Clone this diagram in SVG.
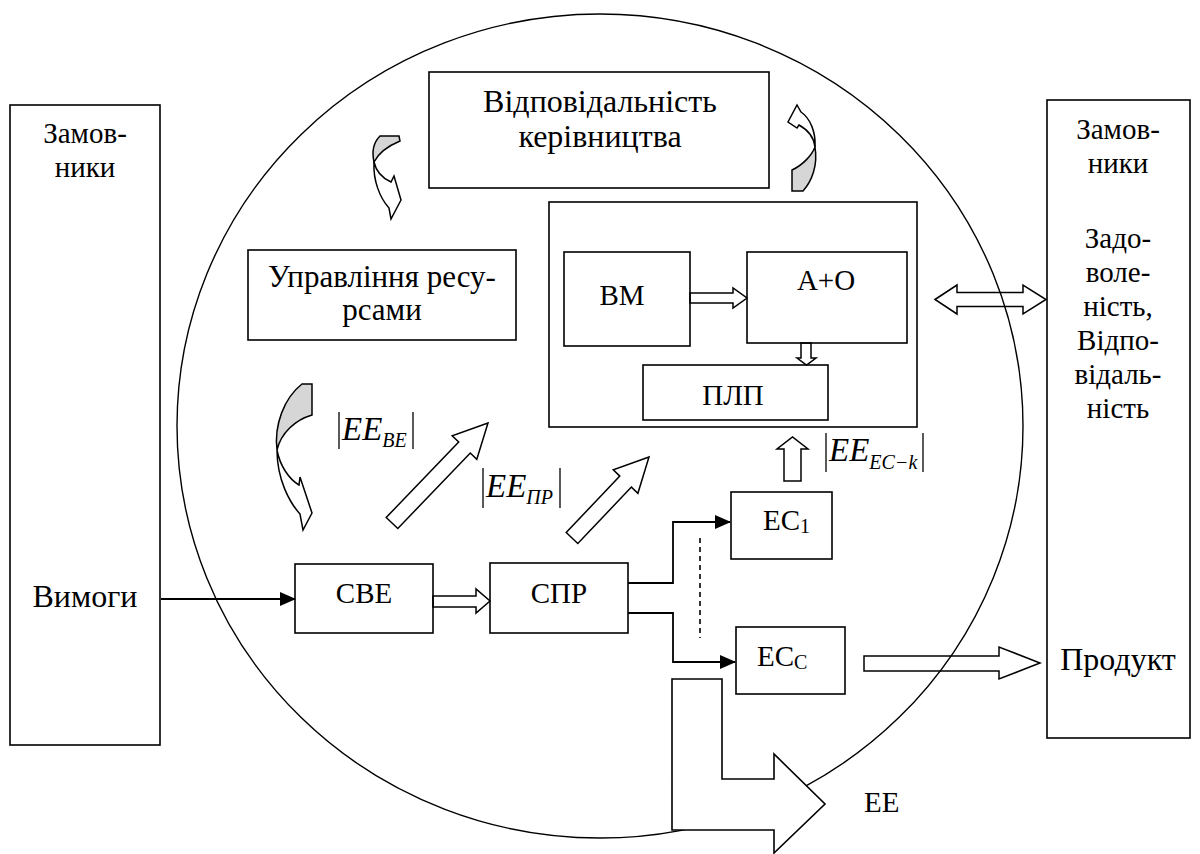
<svg xmlns="http://www.w3.org/2000/svg" width="1200" height="854" viewBox="0 0 1200 854">
<defs>
<style>
.box{fill:#fff;stroke:#000;stroke-width:1.6}
.t{font-family:"Liberation Serif","Times New Roman",serif;font-size:29px;fill:#000}
.big{font-size:32px}
.mid{font-size:31px}
.m{font-family:"Liberation Serif","Times New Roman",serif;font-size:33px;font-style:italic;fill:#000}
.s{font-family:"Liberation Serif","Times New Roman",serif;font-size:20px;font-style:italic;fill:#000}
.su{font-family:"Liberation Serif","Times New Roman",serif;font-size:20px;fill:#000}
.ha{fill:none;stroke:#000;stroke-width:1.5;stroke-linejoin:miter}
.ln{fill:none;stroke:#000;stroke-width:1.8}
.bar{stroke:#000;stroke-width:1.3}
.cw{fill:#fff;stroke:#000;stroke-width:1.5;stroke-linejoin:miter}
.cg{fill:#d6d6d6;stroke:#000;stroke-width:1.5;stroke-linejoin:miter}
</style>
<marker id="ah" viewBox="0 0 16 14" refX="15" refY="7" markerWidth="16" markerHeight="14" markerUnits="userSpaceOnUse" orient="auto">
<path d="M0,0 L16,7 L0,14 Z" fill="#000"/>
</marker>
</defs>
<rect width="1200" height="854" fill="#fff"/>

<g id="boundary">
<ellipse cx="600" cy="426" rx="423" ry="412" fill="none" stroke="#000" stroke-width="1.4"/>
</g>

<g id="customers-left">
<rect class="box" x="10" y="105" width="150" height="640"/>
<text class="t" x="85" y="143" text-anchor="middle">Замов-</text>
<text class="t" x="85" y="177" text-anchor="middle">ники</text>
<text class="t big" x="85" y="607" text-anchor="middle">Вимоги</text>
</g>

<g id="customers-right">
<rect class="box" x="1047" y="100" width="143" height="638"/>
<text class="t" x="1118" y="139" text-anchor="middle">Замов-</text>
<text class="t" x="1118" y="173" text-anchor="middle">ники</text>
<text class="t" x="1118" y="248" text-anchor="middle">Задо-</text>
<text class="t" x="1118" y="282" text-anchor="middle">воле-</text>
<text class="t" x="1118" y="316" text-anchor="middle">ність,</text>
<text class="t" x="1118" y="350" text-anchor="middle">Відпо-</text>
<text class="t" x="1118" y="384" text-anchor="middle">відаль-</text>
<text class="t" x="1118" y="418" text-anchor="middle">ність</text>
<text class="t big" x="1118" y="670" text-anchor="middle">Продукт</text>
</g>

<g id="management">
<rect class="box" x="429" y="72" width="340" height="116"/>
<text class="t big" x="600" y="112" text-anchor="middle">Відповідальність</text>
<text class="t big" x="600" y="147" text-anchor="middle">керівництва</text>
</g>

<g id="resources">
<rect class="box" x="248" y="250" width="268" height="90"/>
<text class="t mid" x="382" y="287" text-anchor="middle">Управління ресу-</text>
<text class="t mid" x="382" y="320" text-anchor="middle">рсами</text>
</g>

<g id="container">
<rect class="box" x="549" y="202" width="368" height="225"/>
</g>
<g id="bm">
<rect class="box" x="564" y="252" width="126" height="94"/>
<text class="t" x="622" y="305" text-anchor="middle">ВМ</text>
</g>
<g id="ao">
<rect class="box" x="747" y="252" width="160" height="91"/>
<text class="t" x="826" y="290" text-anchor="middle">A+O</text>
</g>
<g id="plp">
<rect class="box" x="643" y="365" width="185" height="55"/>
<text class="t" x="733" y="405" text-anchor="middle">ПЛП</text>
</g>

<g id="sve">
<rect class="box" x="295" y="564" width="138" height="69"/>
<text class="t" x="364" y="603" text-anchor="middle">СВЕ</text>
</g>
<g id="spr">
<rect class="box" x="490" y="563" width="138" height="70"/>
<text class="t" x="559" y="603" text-anchor="middle">СПР</text>
</g>
<g id="ec1">
<rect class="box" x="731" y="492" width="101" height="67"/>
<text class="t" x="763" y="530">EC<tspan class="su" dy="3">1</tspan></text>
</g>
<g id="ecc">
<rect class="box" x="736" y="627" width="109" height="67"/>
<text class="t" x="757" y="666">EC<tspan class="su" dy="3">C</tspan></text>
</g>

<g id="labels">
<line class="bar" x1="339" y1="412" x2="339" y2="449"/>
<text class="m" x="342" y="440">EE<tspan class="s" dy="7">BE</tspan></text>
<line class="bar" x1="413" y1="412" x2="413" y2="449"/>

<line class="bar" x1="483" y1="468" x2="483" y2="508"/>
<text class="m" x="486" y="497">EE<tspan class="s" dy="7">ПР</tspan></text>
<line class="bar" x1="560" y1="468" x2="560" y2="508"/>

<line class="bar" x1="826" y1="433" x2="826" y2="472"/>
<text class="m" x="829" y="461">EE<tspan class="s" dy="8">EC−k</tspan></text>
<line class="bar" x1="923" y1="433" x2="923" y2="472"/>

<text class="t" x="864" y="812">EE</text>
</g>

<g id="connectors">
<line class="ln" x1="161" y1="599" x2="295" y2="599" marker-end="url(#ah)"/>
<polyline class="ln" points="628,583 673,583 673,522 730,522" marker-end="url(#ah)"/>
<polyline class="ln" points="628,613 673,613 673,662 735,662" marker-end="url(#ah)"/>
<line x1="700" y1="538" x2="700" y2="638" stroke="#000" stroke-width="1.6" stroke-dasharray="5,4"/>

<polygon class="ha" points="433,596 476,596 476,589 490,601 476,613 476,607 433,607"/>
<polygon class="ha" points="690,293 733,293 733,288 747,298 733,308 733,303 690,303"/>
<polygon class="ha" points="801,343 811,343 811,358 816,358 806.5,365 797,358 801,358"/>
<polygon class="ha" points="784,481 801,481 801,449 808,449 792.5,437 777,449 784,449"/>
<polygon class="ha" points="935,299.5 957,285 957,292.5 1023,292.5 1023,285 1046,299.5 1023,314 1023,306.5 957,306.5 957,314"/>
<polygon class="ha" points="864,656 999,656 999,647 1040,663 999,679 999,671 864,671"/>
<polygon class="ha" points="386.2,517.5 397.8,528.5 470.3,453 476.8,459.3 488,423 452.2,435.7 458.7,442"/>
<polygon class="ha" points="566.2,532.5 577.8,543.5 631.4,487.1 637.9,493.3 649,457 613.3,469.9 619.8,476.1"/>
<polygon fill="#fff" stroke="#000" stroke-width="1.6" points="672,679 722,679 722,779 774,779 774,754 825,804 774,853 774,830 672,830"/>

<path class="cg" d="M380,136 L399,136 L400,141 C388,146 378,154 374,162 C372,153 373,143 380,136 Z"/>
<path class="cw" d="M374,162 C373,181 380,198 389,208 L391,219 L401,200 L394,176 L391,182 C382,178 376,171 374,162 Z"/>

<path class="cg" d="M792,191 L803,191 C812,181 818,165 815,147 C812,155 803,165 792,170 Z"/>
<path class="cw" d="M815,147 C816,132 810,118 801,112 L797,105 L788,122 L797,128 L799,125 C808,130 814,138 815,147 Z"/>

<path class="cg" d="M302,384 L312,384 L312,415 C295,420 281,433 277,450 C274,425 284,398 302,384 Z"/>
<path class="cw" d="M277,450 C277,480 290,503 300,514 L303,530 L312,513 L300,477 L299,485 C289,479 280,466 277,450 Z"/>
</g>
</svg>
